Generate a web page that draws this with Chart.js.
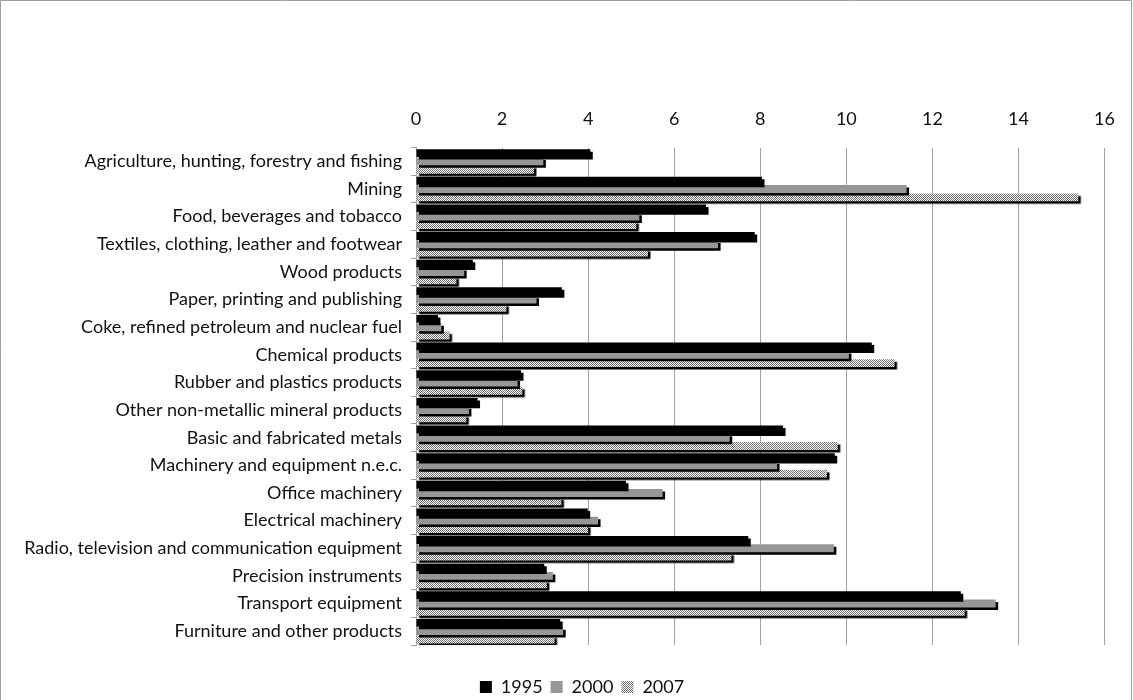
<!DOCTYPE html>
<html>
<head>
<meta charset="utf-8">
<script src="https://cdn.jsdelivr.net/npm/chart.js@4/dist/chart.umd.min.js"></script>
<style>
  html, body { margin: 0; padding: 0; background: #fff; }
  #wrap { width: 1133px; height: 700px; position: relative; }
</style>
</head>
<body>
<div id="wrap"><canvas id="chart" width="1133" height="700"></canvas></div>
<script>
// Industries, top to bottom
const categories = [
  'Agriculture, hunting, forestry and fishing',
  'Mining',
  'Food, beverages and tobacco',
  'Textiles, clothing, leather and footwear',
  'Wood products',
  'Paper, printing and publishing',
  'Coke, refined petroleum and nuclear fuel',
  'Chemical products',
  'Rubber and plastics products',
  'Other non-metallic mineral products',
  'Basic and fabricated metals',
  'Machinery and equipment n.e.c.',
  'Office machinery',
  'Electrical machinery',
  'Radio, television and communication equipment',
  'Precision instruments',
  'Transport equipment',
  'Furniture and other products'
];

const seriesNames = ['1995', '2000', '2007'];

const values1995 = [4.05, 8.04, 6.74, 7.87, 1.32, 3.39, 0.51, 10.59, 2.44, 1.43, 8.53, 9.73, 4.88, 3.99, 7.72, 2.98, 12.66, 3.35];
const values2000 = [2.96, 11.40, 5.19, 7.02, 1.12, 2.80, 0.59, 10.06, 2.36, 1.23, 7.29, 8.39, 5.73, 4.23, 9.71, 3.18, 13.47, 3.42];
const values2007 = [2.74, 15.39, 5.12, 5.39, 0.94, 2.10, 0.78, 11.12, 2.47, 1.17, 9.80, 9.55, 3.38, 4.00, 7.33, 3.04, 12.75, 3.22];

// value axis ticks
const xMin = 0;
const xMax = 16;
const xStep = 2;

const canvas = document.getElementById('chart');
const ctx = canvas.getContext('2d');

// fine dotted fill used for the 2007 series
function ditherPattern() {
  const tile = document.createElement('canvas');
  tile.width = 2; tile.height = 2;
  const t = tile.getContext('2d');
  t.fillStyle = '#ffffff';
  t.fillRect(0, 0, 2, 2);
  t.fillStyle = '#6e6e6e';
  t.fillRect(0, 0, 1, 1);
  t.fillRect(1, 1, 1, 1);
  return ctx.createPattern(tile, 'repeat');
}

const FONT = 'Lato, "Open Sans", sans-serif';
const FONT_SIZE = 18;
const TEXT = '#111111';
const GRID = '#a3a3a3';

// hard drop shadow behind every bar
const barShadow = {
  id: 'barShadow',
  beforeDatasetsDraw(chart) {
    const c = chart.ctx;
    c.save();
    c.shadowColor = '#000000';
    c.shadowOffsetX = 2.5;
    c.shadowOffsetY = 2.5;
    c.shadowBlur = 0;
  },
  afterDatasetsDraw(chart) {
    chart.ctx.restore();
  }
};

// nudge the legend row a little to the right of the canvas centre
const legendShift = {
  id: 'legendShift',
  afterLayout(chart) {
    const lg = chart.legend;
    if (lg) { lg.left += 29; lg.right += 29; }
  }
};

// thin frame round the whole figure
const frame = {
  id: 'frame',
  afterDraw(chart) {
    const c = chart.ctx;
    c.save();
    c.strokeStyle = '#a0a0a0';
    c.lineWidth = 1;
    c.beginPath();
    c.moveTo(0.5, 700);
    c.lineTo(0.5, 0.5);
    c.lineTo(1131.5, 0.5);
    c.lineTo(1131.5, 700);
    c.stroke();
    c.restore();
  }
};

const fills = ['#000000', '#969696', ditherPattern()];
const seriesValues = [values1995, values2000, values2007];

new Chart(ctx, {
  type: 'bar',
  data: {
    labels: categories,
    datasets: seriesNames.map((name, i) => ({
      label: name,
      data: seriesValues[i],
      backgroundColor: fills[i],
      borderWidth: 0,
      categoryPercentage: 0.9,
      barPercentage: 0.95
    }))
  },
  options: {
    indexAxis: 'y',
    responsive: false,
    animation: false,
    devicePixelRatio: 1,
    layout: { padding: { top: 90, right: 27, bottom: -6, left: 0 } },
    plugins: {
      legend: {
        position: 'bottom',
        labels: {
          font: { family: FONT, size: FONT_SIZE },
          color: TEXT,
          boxWidth: 12,
          boxHeight: 12,
          padding: 8
        }
      },
      tooltip: { enabled: false }
    },
    scales: {
      x: {
        position: 'top',
        min: xMin,
        max: xMax,
        ticks: {
          stepSize: xStep,
          padding: 18,
          color: TEXT,
          font: { family: FONT, size: FONT_SIZE }
        },
        grid: { color: GRID, lineWidth: 1, drawTicks: false },
        border: { display: false }
      },
      // spacer between plot and legend
      spacer: {
        type: 'linear',
        axis: 'x',
        position: 'bottom',
        display: true,
        ticks: { display: false },
        grid: { display: false, drawTicks: false },
        border: { display: false },
        afterFit(scale) { scale.height = 25; }
      },
      y: {
        ticks: {
          padding: 9,
          color: TEXT,
          font: { family: FONT, size: FONT_SIZE }
        },
        grid: { drawOnChartArea: false, drawTicks: true, tickLength: 5, color: GRID },
        border: { display: true, color: GRID },
        afterFit(scale) { scale.width = 416; }
      }
    }
  },
  plugins: [barShadow, legendShift, frame]
});
</script>
</body>
</html>
